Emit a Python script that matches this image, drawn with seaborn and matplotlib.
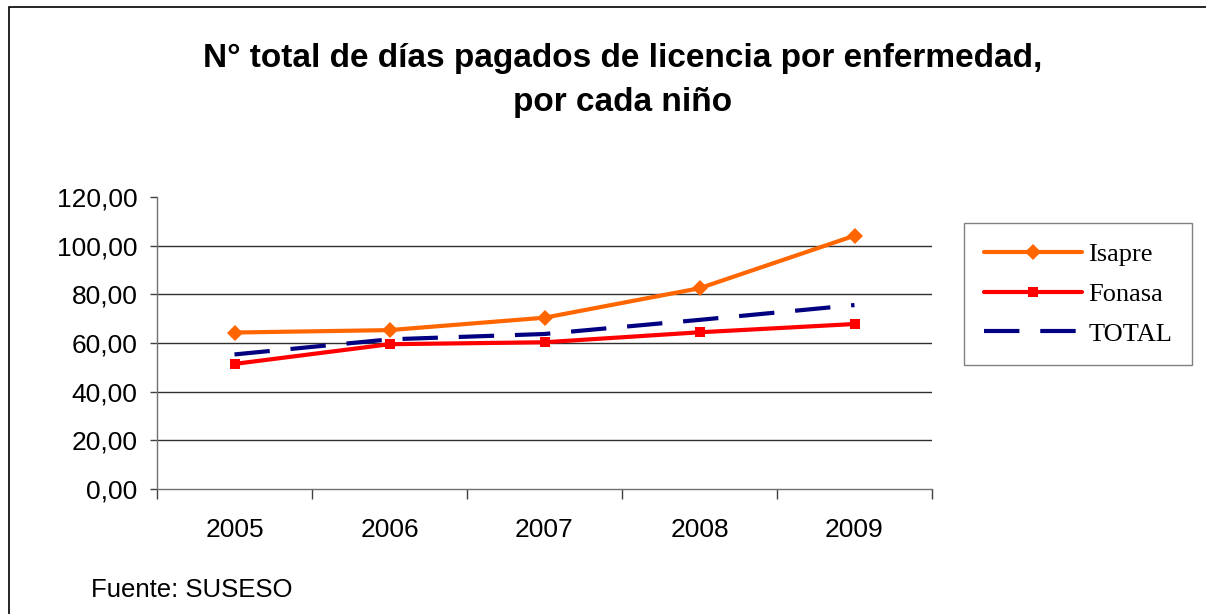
#!/usr/bin/env python3
"""Line chart: total paid sick-leave days per child, Isapre vs Fonasa vs TOTAL (2005-2009)."""

import matplotlib

matplotlib.use("Agg")
import matplotlib.pyplot as plt
import pandas as pd
import seaborn as sns
from matplotlib.patches import Rectangle
from matplotlib.ticker import FixedLocator, FuncFormatter

years = ["2005", "2006", "2007", "2008", "2009"]
isapre = [64.3, 65.3, 70.4, 82.5, 104.1]
fonasa = [51.4, 59.5, 60.3, 64.4, 67.8]
total = [55.3, 61.5, 63.7, 69.5, 75.6]
series_names = ["Isapre", "Fonasa", "TOTAL"]

title_lines = ["N° total de días pagados de licencia por enfermedad,", "por cada niño"]
source_note = "Fuente: SUSESO"

sns.set_theme(style="white")
plt.rcParams["font.family"] = ["Liberation Sans", "DejaVu Sans"]
plt.rcParams["text.color"] = "black"
plt.rcParams["xtick.color"] = "black"
plt.rcParams["ytick.color"] = "black"

positions = list(range(len(years)))
styles = {
    "Isapre": dict(color="#FF6600", marker="D", markersize=8, linestyle="-"),
    "Fonasa": dict(color="#FF0000", marker="s", markersize=7, linestyle="-"),
    "TOTAL": dict(color="#000080", marker=None, linestyle=(0, (8.5, 5))),
}

fig = plt.figure(figsize=(12.06, 6.14), dpi=100)
ax = fig.add_axes([157 / 1206, 125 / 614, 775 / 1206, 292 / 614])

for name, vals in zip(series_names, [isapre, fonasa, total]):
    d = pd.DataFrame({"pos": positions, "value": vals})
    sns.lineplot(data=d, x="pos", y="value", ax=ax, label=name,
                 linewidth=3, markeredgewidth=0, **styles[name])

ax.set_xlim(-0.5, 4.5)
ax.set_ylim(0, 120)
ax.set_xlabel("")
ax.set_ylabel("")

ax.set_yticks(range(0, 121, 20))
ax.yaxis.set_major_formatter(FuncFormatter(lambda v, _: f"{v:.2f}".replace(".", ",")))
ax.set_xticks(positions)
ax.set_xticklabels(years)
ax.xaxis.set_minor_locator(FixedLocator([i - 0.5 for i in range(len(years) + 1)]))

for g in range(20, 101, 20):
    ax.axhline(g, color="#303030", lw=1, zorder=0)

for side in ["top", "right"]:
    ax.spines[side].set_visible(False)
for side in ["left", "bottom"]:
    ax.spines[side].set_color("#707070")
    ax.spines[side].set_linewidth(1)

ax.tick_params(axis="y", which="major", direction="out", length=5, width=1,
               color="#404040", left=True, labelsize=19, pad=9, labelcolor="black")
ax.tick_params(axis="x", which="major", length=0, labelsize=19, pad=21, labelcolor="black")
ax.tick_params(axis="x", which="minor", direction="out", length=7, width=1,
               color="#404040", bottom=True)

handles, labels = ax.get_legend_handles_labels()
ax.get_legend().remove()
leg = fig.legend(
    handles, labels, loc="center",
    bbox_to_anchor=(1078 / 1206, 1 - 294 / 614),
    prop={"family": "Liberation Serif", "size": 19},
    frameon=True, fancybox=False, edgecolor="#606060",
    handlelength=3.7, handletextpad=0.25, labelspacing=0.62,
    borderpad=0.75, borderaxespad=0,
)
leg.get_frame().set_linewidth(1)

fig.text(623 / 1206, 1 - 67 / 614, title_lines[0], ha="center", va="baseline",
         fontsize=24, fontweight="bold")
fig.text(623 / 1206, 1 - 111 / 614, title_lines[1], ha="center", va="baseline",
         fontsize=24, fontweight="bold")
fig.text(91 / 1206, 1 - 597 / 614, source_note, ha="left", va="baseline", fontsize=18.5)

# outer chart border (only left and top edges are in frame)
fig.add_artist(Rectangle((9 / 1206, -0.2), 2, 1.2 - 7 / 614,
                         transform=fig.transFigure, fill=False,
                         edgecolor="black", linewidth=1.2))

fig.savefig("out.png", dpi=100)
